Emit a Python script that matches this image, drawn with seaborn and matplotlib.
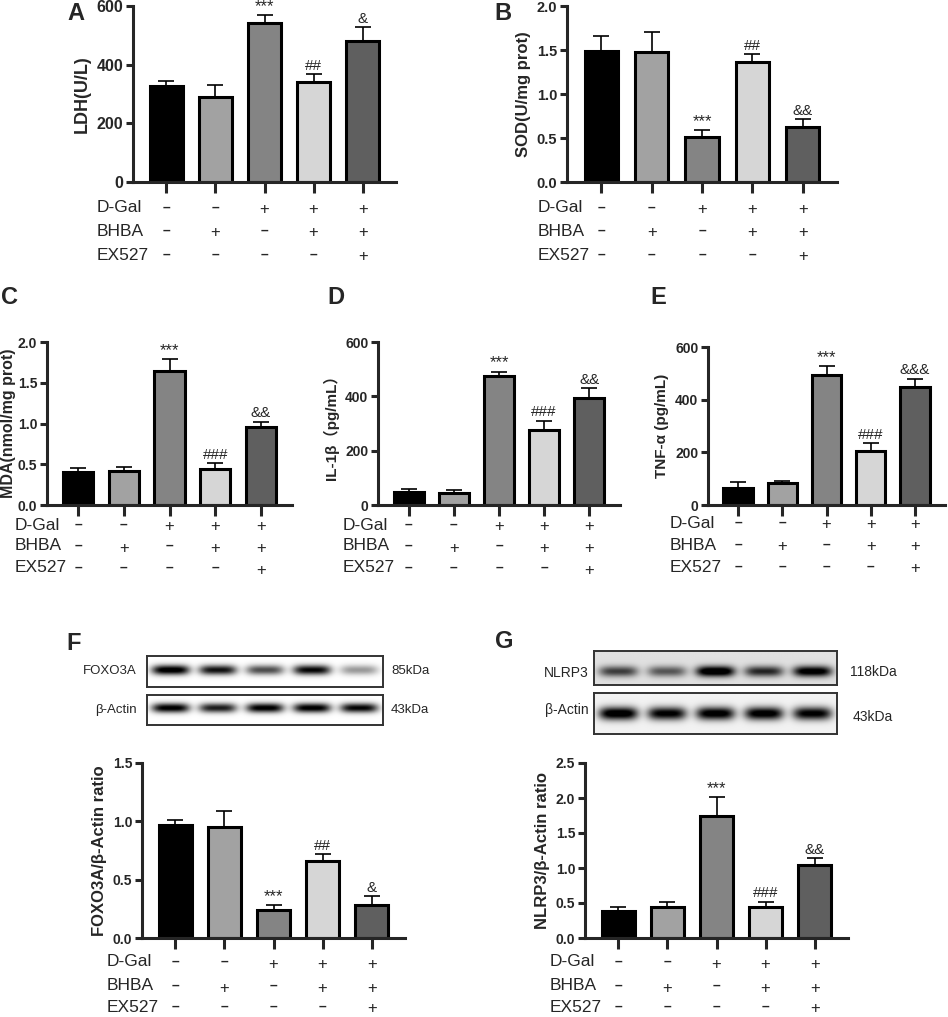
import numpy as np
import pandas as pd
import matplotlib
matplotlib.use("Agg")
import matplotlib.pyplot as plt
import matplotlib.transforms as mtransforms
from matplotlib.ticker import FormatStrFormatter
import seaborn as sns

sns.set_theme(style="ticks")
plt.rcParams['font.family'] = ['Liberation Sans', 'Noto Sans CJK SC', 'DejaVu Sans']

# ---------- data ----------
groups = ["ctrl", "bhba", "dgal", "dgal_bhba", "dgal_bhba_ex527"]
bar_colors = ["#000000", "#a2a2a2", "#848484", "#d6d6d6", "#5f5f5f"]
row_names = ["D-Gal", "BHBA", "EX527"]
dgal = ["-", "-", "+", "+", "+"]
bhba = ["-", "+", "-", "+", "+"]
ex527 = ["-", "-", "-", "-", "+"]

ldh = [327, 289, 542, 341, 482]
ldh_err = [16, 42, 27, 27, 46]
ldh_marks = ["", "", "***", "##", "&"]

sod = [1.49, 1.48, 0.51, 1.36, 0.63]
sod_err = [0.165, 0.22, 0.077, 0.094, 0.086]
sod_marks = ["", "", "***", "##", "&&"]

mda = [0.40, 0.42, 1.65, 0.445, 0.96]
mda_err = [0.06, 0.045, 0.14, 0.065, 0.06]
mda_marks = ["", "", "***", "###", "&&"]

il1b = [49, 46, 474, 275, 395]
il1b_err = [10, 8, 16, 35, 36]
il1b_marks = ["", "", "***", "###", "&&"]

tnf = [66, 82, 493, 205, 448]
tnf_err = [20, 9, 34, 29, 31]
tnf_marks = ["", "", "***", "###", "&&&"]

foxo3a = [0.968, 0.954, 0.236, 0.66, 0.287]
foxo3a_err = [0.042, 0.136, 0.044, 0.06, 0.073]
foxo3a_marks = ["", "", "***", "##", "&"]

nlrp3 = [0.38, 0.446, 1.736, 0.446, 1.048]
nlrp3_err = [0.06, 0.074, 0.274, 0.074, 0.092]
nlrp3_marks = ["", "", "***", "###", "&&"]

# western blot band strength per lane (read by eye)
foxo3a_band = [1.1, 0.95, 0.7, 1.0, 0.4]
actin_f_band = [1.05, 0.9, 1.05, 1.05, 1.0]
nlrp3_band = [0.65, 0.55, 1.1, 0.75, 1.0]
actin_g_band = [1.1, 1.0, 1.05, 1.05, 1.0]

W, H = 948, 1017
fig = plt.figure(figsize=(W / 100, H / 100), dpi=100)
fig.patch.set_facecolor("white")


def px_axes(l, t, r, b):
    return fig.add_axes([l / W, 1 - b / H, (r - l) / W, (b - t) / H])


def bar_panel(rect, vals, errs, ymax, step, fmt, ylabel, marks, rows_y, label_x,
              tick_fs=10, label_fs=11.5, labelpad=4):
    ax = px_axes(*rect)
    df = pd.DataFrame({"group": groups, "value": vals})
    sns.barplot(data=df, x="group", y="value", hue="group", palette=bar_colors,
                legend=False, width=0.66, edgecolor="black", linewidth=2.2,
                saturation=1, ax=ax)
    x = np.arange(len(vals))
    ax.errorbar(x, vals, yerr=[np.zeros(len(vals)), errs], fmt="none",
                ecolor="black", elinewidth=1.2, capsize=6, capthick=1.2, zorder=1)
    for xi, v, e, m in zip(x, vals, errs, marks):
        if m:
            ax.annotate(m, (xi, v + e), xytext=(0, 1), textcoords="offset points",
                        ha="center", va="bottom",
                        fontsize=12 if m == "***" else 11)
    ax.set_xlim(-0.68, 4.68)
    ax.set_ylim(0, ymax)
    ax.set_yticks(np.arange(0, ymax + step / 2, step))
    ax.yaxis.set_major_formatter(FormatStrFormatter(fmt))
    ax.set_xticks(x)
    ax.set_xticklabels([])
    ax.set_xlabel("")
    ax.set_ylabel(ylabel, fontsize=label_fs, fontweight="bold", labelpad=labelpad)
    sns.despine(ax=ax)
    for s in ["left", "bottom"]:
        ax.spines[s].set_linewidth(2.2)
    ax.tick_params(axis="x", length=8, width=2.2)
    ax.tick_params(axis="y", length=5, width=2.2, labelsize=tick_fs, pad=2)
    for lab in ax.get_yticklabels():
        lab.set_fontweight("bold")
    # treatment table under the bars
    trans = mtransforms.blended_transform_factory(ax.transData, fig.transFigure)
    for name, signs, y in zip(row_names, [dgal, bhba, ex527], rows_y):
        fig.text(label_x / W, 1 - y / H, name, ha="left", va="center", fontsize=12.5)
        for xi, s in zip(x, signs):
            if s == "-":
                ax.text(xi, 1 - y / H, "–", transform=trans, ha="center",
                        va="center", fontsize=10, fontweight="bold", clip_on=False)
            else:
                ax.text(xi, 1 - y / H - 2 / H, s, transform=trans, ha="center",
                        va="center", fontsize=12, clip_on=False)
    return ax


def blot(rect, bands, yc, bg, name, kda, name_x, name_y, kda_x, kda_y, fs):
    ax = px_axes(*rect)
    xs = np.linspace(0, 1, 400)
    ys = np.linspace(0, 1, 80)
    img = np.full((len(ys), len(xs)), bg)
    for i, a in enumerate(bands):
        c = (i + 0.5) / len(bands)
        px = np.exp(-((xs - c) / 0.08) ** 4)
        py = np.exp(-((ys - yc) / 0.16) ** 2)
        img += a * np.outer(py, px)
    ax.imshow(np.clip(img, 0, 1), cmap="gray_r", vmin=0, vmax=1.0,
              aspect="auto", extent=[0, 1, 1, 0], interpolation="bilinear")
    ax.set_xticks([])
    ax.set_yticks([])
    for s in ax.spines.values():
        s.set_visible(True)
        s.set_linewidth(1.4)
        s.set_color("#333333")
    fig.text(name_x / W, 1 - name_y / H, name, ha="right", va="center", fontsize=fs)
    fig.text(kda_x / W, 1 - kda_y / H, kda, ha="left", va="center", fontsize=fs)


bar_panel((133, 6, 396, 182), ldh, ldh_err, 600, 200, "%d", "LDH(U/L)",
          ldh_marks, [208, 231, 255], 97, tick_fs=11.5, label_fs=13)
bar_panel((567, 6, 837, 182), sod, sod_err, 2.0, 0.5, "%.1f", "SOD(U/mg prot)",
          sod_marks, [208, 231, 255], 538, tick_fs=10.5, label_fs=12)
bar_panel((47, 342, 292, 505), mda, mda_err, 2.0, 0.5, "%.1f", "MDA(nmol/mg prot)",
          mda_marks, [525, 546, 568], 15, label_fs=11.5, labelpad=1)
bar_panel((378, 342, 620, 505), il1b, il1b_err, 600, 200, "%d", "IL-1β（pg/mL）",
          il1b_marks, [525, 546, 568], 343, label_fs=11)
bar_panel((708, 347, 945, 505), tnf, tnf_err, 600, 200, "%d", "TNF-α (pg/mL)",
          tnf_marks, [523, 545, 567], 670, label_fs=11)
bar_panel((142, 763, 405, 938), foxo3a, foxo3a_err, 1.5, 0.5, "%.1f",
          "FOXO3A/β-Actin ratio", foxo3a_marks, [962, 986, 1007], 107, label_fs=12)
bar_panel((585, 763, 848, 938), nlrp3, nlrp3_err, 2.5, 0.5, "%.1f",
          "NLRP3/β-Actin ratio", nlrp3_marks, [962, 986, 1007], 550, label_fs=12)

blot((147, 656, 383, 687), foxo3a_band, 0.45, 0.0, "FOXO3A", "85kDa", 137, 671, 391, 671, 9.5)
blot((147, 695, 383, 725), actin_f_band, 0.43, 0.0, "β-Actin", "43kDa", 137, 710, 391, 710, 9.5)
blot((594, 651, 837, 685), nlrp3_band, 0.6, 0.12, "NLRP3", "118kDa", 589, 673, 850, 672, 10)
blot((594, 693, 837, 734), actin_g_band, 0.5, 0.05, "β-Actin", "43kDa", 589, 710, 853, 717, 10)

for letter, x, y in [("A", 76, 13), ("B", 503, 13), ("C", 9, 298), ("D", 336, 298),
                     ("E", 658, 298), ("F", 74, 643), ("G", 504, 642)]:
    fig.text(x / W, 1 - y / H, letter, ha="center", va="center",
             fontsize=17, fontweight="bold")

fig.savefig("out.png", dpi=100)
